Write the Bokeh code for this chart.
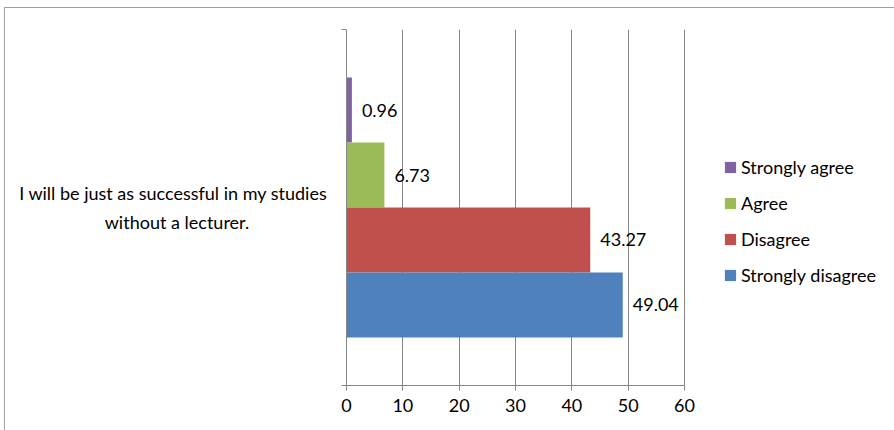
from bokeh.plotting import figure
from bokeh.models import (Range1d, FixedTicker, Legend, LegendItem,
                          ColumnDataSource)
from bokeh.embed import file_html
from bokeh.resources import INLINE
from bokeh.core.properties import value

# Survey statement and response shares (%)
question_line1 = "I will be just as successful in my studies"
question_line2 = "without a lecturer."
responses = ["Strongly agree", "Agree", "Disagree", "Strongly disagree"]
percentages = [0.96, 6.73, 43.27, 49.04]
colors = ["#8064A2", "#9BBB59", "#C0504D", "#4F81BD"]
x_ticks = [0, 10, 20, 30, 40, 50, 60]

FONT = "Lato"
FS = "18px"
GRID = "#868686"
NBSP = "\u00a0"

# the plotting frame runs to the right edge; the value axis covers 338 px of it
FRAME_W, AXIS_W = 549, 338
x_end = x_ticks[-1] * FRAME_W / AXIS_W

# single category slot spans 0..1 on the y scale
p = figure(width=890, height=423, output_backend="svg", toolbar_location=None,
           x_range=Range1d(0, x_end), y_range=Range1d(0, 1),
           min_border_left=341, min_border_right=0,
           min_border_top=21, min_border_bottom=46)
p.margin = (7, 0, 0, 4)
p.styles = {"border-left": "1px solid #a0a0a0", "border-top": "1px solid #a0a0a0"}
p.outline_line_color = None
p.background_fill_color = "white"
p.border_fill_color = "white"

# the four bars fill 73% of the slot, first response on top
bar_h = 0.73 / len(responses)
legend_items = []
for i, (resp, val, col) in enumerate(zip(responses, percentages, colors)):
    yc = 0.5 + (1.5 - i) * bar_h
    src = ColumnDataSource(dict(y=[yc], v=[val], t=[f"{val:.2f}"]))
    bar = p.hbar(y="y", right="v", left=0, height=bar_h, source=src,
                 fill_color=col, line_color=None)
    p.text(x="v", y="y", text="t", source=src,
           x_offset=10, text_align="left", text_baseline="middle",
           text_font=value(FONT), text_font_size=FS, text_color="black")
    legend_items.append(LegendItem(label=resp, renderers=[bar]))

# x axis and vertical gridlines
p.xaxis.ticker = FixedTicker(ticks=x_ticks)
p.xaxis.bounds = (x_ticks[0], x_ticks[-1])
p.xaxis.major_tick_out = 5
p.xaxis.major_tick_in = 0
p.xaxis.minor_tick_line_color = None
p.xaxis.axis_line_color = GRID
p.xaxis.major_tick_line_color = GRID
p.xaxis.major_label_text_font = FONT
p.xaxis.major_label_text_font_size = FS
p.xaxis.major_label_text_color = "black"
p.xaxis.major_label_standoff = 8
p.xgrid.ticker = FixedTicker(ticks=x_ticks)
p.xgrid.grid_line_color = GRID
p.ygrid.grid_line_color = None

# category axis: plain line with ticks at the slot edges, category name beside it
# (the label block is right-aligned, so the short line is padded to sit centred)
p.yaxis.ticker = FixedTicker(ticks=[0, 1])
p.yaxis.major_tick_out = 5
p.yaxis.major_tick_in = 0
p.yaxis.minor_tick_line_color = None
p.yaxis.axis_line_color = GRID
p.yaxis.major_tick_line_color = GRID
p.yaxis.major_label_text_alpha = 0
p.yaxis.major_label_text_font_size = "1px"
p.yaxis.major_label_standoff = 0
p.yaxis.axis_label = question_line1 + "\n" + question_line2 + NBSP * 17
p.yaxis.axis_label_orientation = "horizontal"
p.yaxis.axis_label_text_align = "center"
p.yaxis.axis_label_text_font = FONT
p.yaxis.axis_label_text_font_size = FS
p.yaxis.axis_label_text_font_style = "normal"
p.yaxis.axis_label_text_color = "black"
p.yaxis.axis_label_text_line_height = 1.3
p.yaxis.axis_label_standoff = 14

legend = Legend(items=legend_items,
                location=(377, 99), orientation="vertical",
                glyph_width=14, glyph_height=14, label_standoff=4,
                spacing=14, padding=0, margin=0,
                label_text_font=FONT, label_text_font_size=FS,
                label_text_color="black",
                border_line_color=None, background_fill_alpha=0)
p.add_layout(legend, "center")

open("out.html", "w").write(file_html(p, INLINE))
